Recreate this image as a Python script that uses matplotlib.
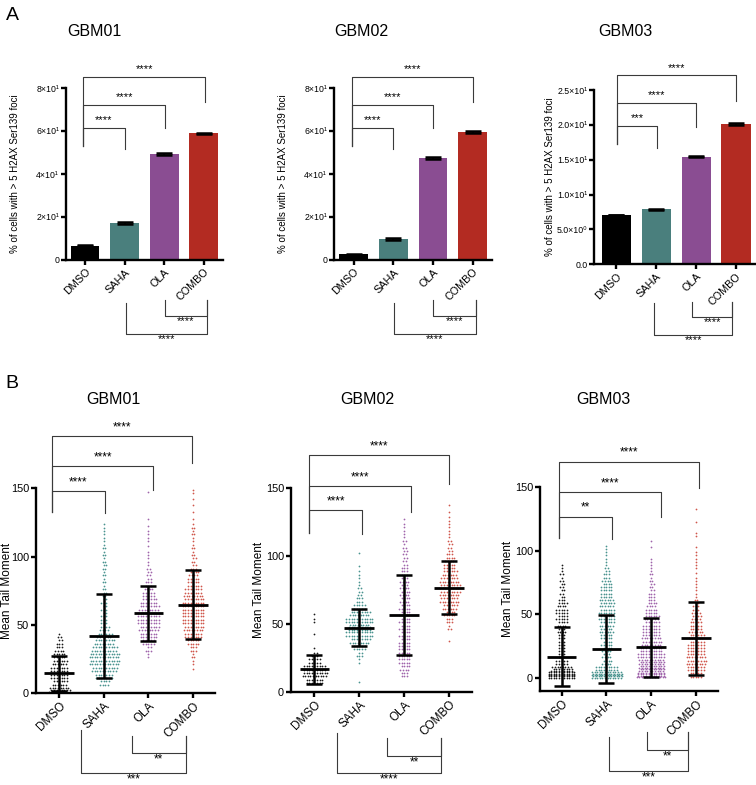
import numpy as np
import matplotlib
matplotlib.use('Agg')
import matplotlib.pyplot as plt

plt.rcParams['font.family'] = ['Liberation Sans', 'DejaVu Sans']

W, H = 756, 785
fig = plt.figure(figsize=(W / 100, H / 100), dpi=100)

groups = ['DMSO', 'SAHA', 'OLA', 'COMBO']
bar_colors = ['#000000', '#4a7f7d', '#8a4d92', '#b32b22']
dot_colors = ['#1a1a1a', '#4a948f', '#a064ab', '#d0574c']

# ---- A: % of cells with > 5 foci (mean, sem)
foci_gbm01 = [6.65, 17.3, 49.3, 58.9]
foci_gbm02 = [2.6, 9.8, 47.3, 59.7]
foci_gbm03 = [7.07, 7.89, 15.44, 20.13]
sem_gbm01 = [0.2, 0.4, 0.4, 0.4]
sem_gbm02 = [0.2, 0.3, 0.4, 0.4]
sem_gbm03 = [0.05, 0.1, 0.12, 0.12]

# ---- B: tail moment, counts per 5-unit bin starting at 0
bin_w = 5
gbm01_dmso = [25, 12, 14, 14, 12, 10, 7, 5, 3]
gbm01_saha = [0, 8, 14, 20, 24, 24, 20, 16, 12, 8, 6, 5, 5, 5, 4, 3, 3, 3, 4, 3, 3, 3, 2, 2, 2]
gbm01_ola = [0, 0, 0, 0, 0, 2, 5, 10, 14, 16, 18, 18, 16, 13, 10, 7, 5, 4, 3, 2, 2, 1, 2, 2, 1, 1, 0, 0, 0, 1]
gbm01_combo = [0, 0, 0, 1, 2, 3, 6, 10, 14, 16, 18, 18, 18, 17, 15, 13, 10, 8, 5, 4, 3, 3, 2, 3, 3, 1, 1, 1, 1, 2]

gbm02_dmso = [0, 14, 20, 18, 10, 5, 1, 0, 1, 0, 2, 1]
gbm02_saha = [0, 1, 0, 0, 2, 5, 10, 16, 22, 26, 22, 16, 10, 6, 4, 3, 2, 2, 1, 0, 1]
gbm02_ola = [0, 0, 6, 8, 10, 10, 10, 9, 9, 9, 9, 9, 9, 8, 8, 7, 7, 6, 5, 4, 4, 3, 3, 2, 2, 1]
gbm02_combo = [0, 0, 0, 0, 0, 0, 0, 1, 0, 3, 6, 9, 12, 15, 16, 16, 15, 12, 10, 8, 5, 4, 3, 2, 2, 2, 1, 1]

gbm03_dmso = [55, 25, 10, 6, 6, 6, 6, 7, 8, 9, 10, 8, 5, 4, 4, 3, 3, 2]
gbm03_saha = [60, 18, 8, 7, 8, 9, 10, 11, 12, 13, 13, 12, 11, 10, 9, 7, 5, 3, 2, 2, 2]
gbm03_ola = [45, 40, 30, 22, 18, 16, 15, 14, 13, 12, 10, 8, 6, 5, 4, 3, 3, 2, 2, 0, 1, 1]
gbm03_combo = [10, 14, 16, 15, 14, 13, 12, 11, 10, 8, 7, 5, 3, 2, 2, 2, 1, 2, 2, 2, 1, 0, 2, 0, 1, 0, 1]

tail_mean_gbm01 = [14.6, 41.8, 58.5, 64.9]
tail_sd_gbm01 = [12.8, 30.6, 20.2, 25.2]
tail_mean_gbm02 = [16.5, 47.2, 56.5, 76.7]
tail_sd_gbm02 = [10.8, 13.5, 29.7, 19.7]
tail_mean_gbm03 = [17.0, 23.0, 24.3, 31.3]
tail_sd_gbm03 = [23.0, 26.7, 23.0, 28.5]


def px_axes(l, r, t, b):
    return fig.add_axes([l / W, 1 - b / H, (r - l) / W, (b - t) / H])


def style(ax, lw=1.7):
    ax.spines['top'].set_visible(False)
    ax.spines['right'].set_visible(False)
    ax.spines['left'].set_linewidth(lw)
    ax.spines['bottom'].set_linewidth(lw)
    ax.tick_params(width=lw, length=3.5, pad=1.5)
    ax.set_xticks(range(4))


def bracket(ax, x1, x2, y, e1, e2, label, fs, below=False):
    ax.plot([x1, x1, x2, x2], [e1, y, y, e2], color='#3a3a3a', lw=0.8, clip_on=False)
    if below:
        ax.annotate(label, ((x1 + x2) / 2, y), xytext=(0, -0.2), textcoords='offset points',
                    ha='center', va='top', fontsize=fs, annotation_clip=False)
    else:
        ax.annotate(label, ((x1 + x2) / 2, y), xytext=(0, 2), textcoords='offset points',
                    ha='center', va='bottom', fontsize=fs, annotation_clip=False)


def swarm(ax, xc, counts, color, per_row=12, dx=0.058):
    xs, ys = [], []
    for i, n in enumerate(counts):
        if n == 0:
            continue
        rows = n if n <= 2 else max(2, int(np.ceil(n / per_row)))
        for r in range(rows):
            k = n // rows + (1 if r < n % rows else 0)
            y = bin_w * i + bin_w * (r + 0.5) / rows
            off = (np.arange(k) - (k - 1) / 2) * dx + (dx / 2 if (r % 2 and k % 2 == 0) else 0)
            xs += list(xc + off)
            ys += [y] * k
    ax.scatter(xs, ys, s=1.6, color=color, linewidths=0, zorder=2)


# ================= panel A =================
def bar_panel(ax, vals, err, xlim, ylim, yticks, ylabels, lab_x, tops, bottoms):
    ax.bar(range(4), vals, width=0.73, color=bar_colors, zorder=1)
    ax.errorbar(range(4), vals, yerr=err, fmt='none', ecolor='black', elinewidth=1.2,
                capsize=5.5, capthick=1.8, zorder=3)
    ax.set_xlim(*xlim)
    ax.set_ylim(*ylim)
    style(ax)
    ax.set_yticks(yticks)
    ax.set_yticklabels(ylabels, fontsize=6.3)
    ax.set_xticklabels(groups, rotation=45, ha='right', rotation_mode='anchor', fontsize=7.8)
    ax.set_ylabel('% of cells with > 5 H2AX Ser139 foci', fontsize=7)
    ax.yaxis.set_label_coords(lab_x, 0.5)
    for b in tops:
        bracket(ax, *b, fs=8)
    for b in bottoms:
        bracket(ax, *b, fs=8, below=True)


ax = px_axes(66, 223, 88, 260)
bar_panel(ax, foci_gbm01, sem_gbm01, (-0.48, 3.49), (0, 80), [0, 20, 40, 60, 80],
          ['0', '2×10¹', '4×10¹', '6×10¹', '8×10¹'], -0.293,
          [(-0.04, 3.03, 85.0, 53.2, 73.3, '****'),
           (-0.04, 2.02, 72.1, 53.2, 61.5, '****'),
           (-0.04, 1.0, 61.5, 53.2, 51.5, '****')],
          [(2.02, 3.09, -25.9, -18.6, -18.6, '****'),
           (1.04, 3.09, -34.4, -20.1, -18.6, '****')])

ax = px_axes(334, 492, 88, 260)
bar_panel(ax, foci_gbm02, sem_gbm02, (-0.5, 3.49), (0, 80), [0, 20, 40, 60, 80],
          ['0', '2×10¹', '4×10¹', '6×10¹', '8×10¹'], -0.289,
          [(-0.04, 3.02, 85.0, 53.2, 73.3, '****'),
           (-0.04, 2.0, 72.1, 53.2, 61.5, '****'),
           (-0.04, 1.0, 61.5, 53.2, 51.5, '****')],
          [(2.0, 3.08, -25.9, -18.6, -18.6, '****'),
           (1.02, 3.08, -34.4, -20.1, -18.6, '****')])

ax = px_axes(594.3, 756, 90, 264.3)
bar_panel(ax, foci_gbm03, sem_gbm03, (-0.55, 3.5), (0, 25), [0, 5, 10, 15, 20, 25],
          ['0.0', '5.0×10⁰', '1.0×10¹', '1.5×10¹', '2.0×10¹', '2.5×10¹'], -0.243,
          [(0.03, 2.99, 27.1, 17.2, 23.4, '****'),
           (0.03, 1.99, 23.1, 17.2, 19.7, '****'),
           (0.03, 1.03, 19.9, 17.2, 16.7, '***')],
          [(1.89, 2.91, -7.5, -5.36, -5.36, '****'),
           (0.95, 2.91, -10.1, -5.6, -5.36, '****')])


# ================= panel B =================
def dot_panel(ax, data, means, sds, xlim, ylim, lab_x, tops, bottoms):
    for i, counts in enumerate(data):
        swarm(ax, i, counts, dot_colors[i])
    x = np.arange(4)
    ax.errorbar(x, means, yerr=sds, fmt='none', ecolor='black', elinewidth=1.8,
                capsize=6, capthick=1.8, zorder=3)
    ax.hlines(means, x - 0.33, x + 0.33, color='black', lw=2, zorder=3)
    ax.set_xlim(*xlim)
    ax.set_ylim(*ylim)
    style(ax)
    ax.set_yticks([0, 50, 100, 150])
    ax.tick_params(axis='y', labelsize=7.8)
    ax.set_xticklabels(groups, rotation=45, ha='right', rotation_mode='anchor', fontsize=8.5)
    ax.set_ylabel('Mean Tail Moment', fontsize=8.5)
    ax.yaxis.set_label_coords(lab_x, 0.5)
    for b in tops:
        bracket(ax, *b, fs=8.5)
    for b in bottoms:
        bracket(ax, *b, fs=8.5, below=True)


ax = px_axes(36, 215, 488.3, 693.3)
dot_panel(ax, [gbm01_dmso, gbm01_saha, gbm01_ola, gbm01_combo], tail_mean_gbm01, tail_sd_gbm01,
          (-0.52, 3.49), (0, 150), -0.13,
          [(-0.16, 2.98, 188.3, 132.4, 168.7, '****'),
           (-0.16, 2.11, 166.3, 132.4, 148.8, '****'),
           (-0.16, 1.02, 148.0, 132.4, 132.1, '****')],
          [(1.62, 2.83, -43.9, -31.2, -31.2, '**'),
           (0.49, 2.83, -58.5, -26.8, -31.2, '***')])

ax = px_axes(291, 471.7, 488.3, 691.7)
dot_panel(ax, [gbm02_dmso, gbm02_saha, gbm02_ola, gbm02_combo], tail_mean_gbm02, tail_sd_gbm02,
          (-0.52, 3.5), (0, 150), -0.144,
          [(-0.11, 3.0, 174.6, 116.8, 153.0, '****'),
           (-0.11, 2.15, 151.9, 116.8, 132.7, '****'),
           (-0.11, 1.05, 134.0, 116.8, 116.1, '****')],
          [(1.61, 2.82, -47.4, -33.9, -33.9, '**'),
           (0.5, 2.82, -60.0, -30.7, -33.9, '****')])

ax = px_axes(540, 718.3, 486.7, 691)
dot_panel(ax, [gbm03_dmso, gbm03_saha, gbm03_ola, gbm03_combo], tail_mean_gbm03, tail_sd_gbm03,
          (-0.48, 3.5), (-10, 150), -0.146,
          [(-0.05, 3.07, 169.6, 109.6, 148.8, '****'),
           (-0.05, 2.22, 145.7, 109.6, 126.5, '****'),
           (-0.05, 1.12, 126.5, 109.6, 108.8, '**')],
          [(1.91, 2.83, -56.1, -41.8, -41.8, '**'),
           (1.06, 2.83, -72.4, -45.7, -41.8, '***')])

# titles and panel letters
for (tx, ty, t) in [(94, 31.7, 'GBM01'), (361.7, 31.7, 'GBM02'), (625, 31.7, 'GBM03'),
                    (113.3, 400, 'GBM01'), (367.5, 400, 'GBM02'), (603.3, 400, 'GBM03')]:
    fig.text(tx / W, 1 - ty / H, t, ha='center', va='center', fontsize=11.5)
fig.text(12 / W, 1 - 15 / H, 'A', ha='center', va='center', fontsize=14)
fig.text(12 / W, 1 - 383 / H, 'B', ha='center', va='center', fontsize=14)

fig.savefig('out.png', dpi=100)
